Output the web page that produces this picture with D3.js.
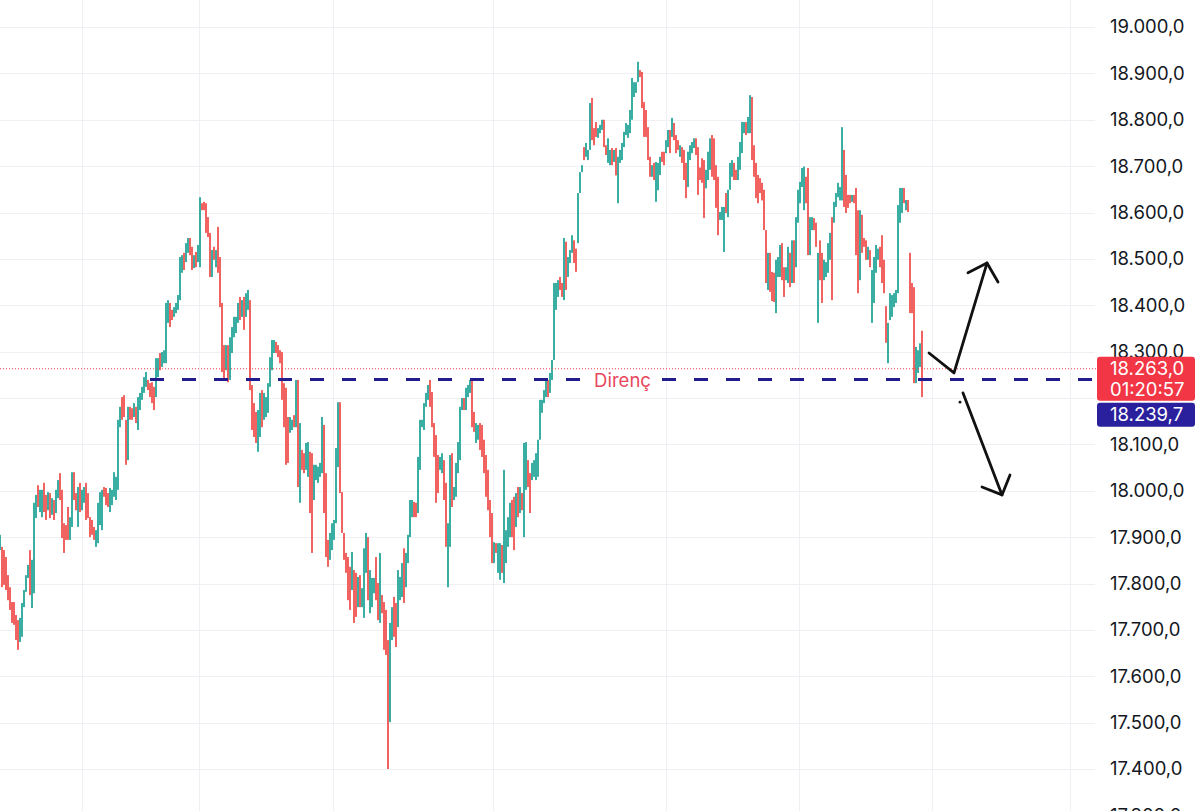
<!DOCTYPE html>
<html><head><meta charset="utf-8">
<script src="https://cdn.jsdelivr.net/npm/d3@7"></script>
<style>html,body{margin:0;padding:0;background:#fff;overflow:hidden}</style>
</head><body><svg id="c" width="1200" height="811"></svg>
<script>
const highs=[17905,17879,17872,17857,17818,17792,17760,17760,17732,17721,
17726,17758,17786,17818,17840,17872,17851,17974,17991,18012,
18002,18002,18017,17991,17997,17995,17984,17980,18002,18023,
18038,18002,17930,17926,17965,17943,18040,18040,17995,18008,
18017,18002,18008,18017,17995,17943,17937,17922,17915,17974,
17997,18002,18008,18006,17995,18006,18002,18040,18030,18153,
18181,18202,18206,18153,18181,18181,18178,18189,18181,18202,
18211,18224,18245,18256,18239,18232,18234,18224,18286,18286,
18297,18299,18303,18405,18411,18405,18390,18396,18405,18422,
18504,18508,18513,18534,18545,18545,18526,18508,18515,18530,
18633,18620,18623,18620,18590,18556,18519,18526,18519,18569,
18504,18405,18314,18314,18314,18331,18353,18375,18375,18405,
18418,18411,18418,18426,18433,18411,18228,18189,18170,18174,
18211,18217,18211,18202,18232,18288,18325,18325,18321,18314,
18303,18299,18232,18222,18159,18159,18153,18163,18239,18239,
18146,18088,18081,18103,18105,18084,18081,18056,18056,18052,
18060,18159,18142,18038,17894,17909,17930,17937,18092,18191,
18191,17997,17909,17866,17857,17836,17868,17829,17823,17814,
17818,17790,17876,17909,17900,17829,17812,17812,17857,17801,
17866,17775,17760,17743,17678,17715,17749,17771,17758,17829,
17814,17844,17876,17866,17905,17980,17980,17976,17974,18073,
18153,18153,18189,18211,18228,18239,18213,18146,18120,18077,
18073,18081,18066,18017,17930,18077,18081,18008,18060,18105,
18181,18200,18200,18222,18228,18239,18239,18170,18146,18142,
18146,18142,18110,18077,18045,17980,17952,17889,17887,17887,
17887,17883,18045,17915,17943,17974,17980,17987,17995,18008,
18008,17995,18103,18105,18066,18038,18060,18066,18081,18110,
18196,18196,18217,18239,18239,18254,18282,18448,18448,18454,
18461,18448,18545,18537,18504,18519,18551,18540,18522,18642,
18687,18702,18741,18750,18735,18836,18847,18782,18795,18782,
18789,18800,18800,18745,18760,18735,18739,18735,18739,18720,
18735,18750,18774,18793,18789,18821,18890,18881,18881,18925,
18907,18903,18838,18821,18784,18720,18702,18707,18709,18707,
18720,18731,18731,18756,18778,18778,18804,18793,18767,18756,
18745,18741,18735,18707,18731,18745,18752,18760,18760,18741,
18697,18717,18713,18692,18731,18760,18767,18760,18702,18677,
18601,18612,18612,18642,18649,18707,18713,18707,18692,18720,
18752,18795,18795,18795,18806,18853,18849,18745,18707,18681,
18674,18664,18649,18562,18513,18513,18472,18470,18498,18504,
18530,18534,18482,18482,18526,18513,18540,18540,18590,18649,
18666,18696,18699,18677,18696,18590,18590,18588,18578,18513,
18540,18513,18498,18493,18534,18556,18590,18623,18642,18664,
18655,18784,18735,18681,18638,18638,18638,18638,18653,18605,
18605,18595,18545,18540,18526,18519,18476,18504,18530,18522,
18526,18551,18498,18398,18362,18426,18422,18426,18433,18616,
18653,18653,18653,18627,18627,18513,18448,18439,18310,18303,
18318,18345];
const lows=[17872,17792,17797,17786,17764,17743,17715,17711,17678,17657,
17674,17685,17749,17782,17812,17775,17747,17779,17941,17965,
17954,17943,17954,17937,17958,17941,17948,17937,17952,17984,
17980,17898,17866,17894,17894,17894,17922,17980,17958,17922,
17954,17958,17974,17937,17941,17900,17905,17894,17879,17887,
17926,17915,17987,17969,17965,17954,17969,17987,17980,18002,
18137,18153,18159,18056,18066,18153,18153,18159,18146,18131,
18174,18196,18211,18224,18217,18202,18189,18174,18202,18245,
18260,18267,18275,18275,18362,18353,18368,18375,18383,18390,
18411,18470,18476,18493,18513,18508,18476,18480,18482,18493,
18482,18605,18605,18556,18547,18461,18461,18498,18482,18470,
18396,18256,18239,18260,18234,18239,18297,18331,18340,18362,
18368,18375,18347,18375,18390,18217,18131,18116,18103,18084,
18116,18137,18153,18159,18168,18224,18260,18297,18297,18288,
18275,18196,18137,18056,18060,18125,18131,18137,18137,18008,
17974,18045,18038,18045,18030,17952,17866,17980,18023,18017,
18030,18038,17952,17857,17836,17851,17872,17894,17930,18051,
17995,17909,17851,17823,17764,17743,17786,17715,17728,17749,
17749,17749,17726,17823,17764,17736,17749,17779,17764,17721,
17715,17736,17657,17646,17400,17501,17678,17685,17663,17706,
17764,17771,17758,17792,17844,17900,17943,17943,17943,17952,
18045,18137,18131,18181,18196,18181,18137,18073,17974,17995,
18045,18038,17980,17879,17792,17879,17965,17980,17987,18038,
18066,18174,18174,18174,18202,18211,18137,18127,18103,18110,
18088,18073,18038,17987,17958,17900,17844,17844,17866,17823,
17808,17823,17801,17844,17879,17900,17900,17872,17922,17943,
17952,17958,17900,18002,18008,17952,18023,18030,18023,18030,
18110,18168,18189,18202,18202,18211,18239,18282,18390,18418,
18433,18418,18411,18433,18461,18491,18513,18491,18472,18534,
18642,18687,18713,18720,18713,18735,18756,18745,18763,18761,
18771,18778,18741,18724,18707,18702,18702,18709,18680,18620,
18707,18713,18741,18767,18761,18771,18800,18849,18858,18881,
18892,18825,18763,18763,18713,18677,18677,18670,18623,18648,
18681,18709,18702,18728,18741,18728,18763,18756,18728,18735,
18720,18707,18670,18631,18655,18713,18728,18739,18724,18638,
18670,18664,18588,18652,18670,18692,18677,18670,18610,18551,
18584,18584,18515,18599,18590,18649,18677,18670,18670,18670,
18692,18728,18771,18767,18771,18771,18713,18677,18631,18620,
18642,18626,18562,18448,18433,18429,18409,18407,18383,18461,
18461,18454,18418,18454,18448,18439,18448,18448,18482,18578,
18620,18655,18605,18620,18508,18508,18562,18562,18526,18362,
18454,18405,18454,18461,18470,18498,18411,18578,18612,18633,
18626,18626,18612,18599,18610,18620,18623,18620,18508,18426,
18454,18513,18526,18498,18498,18482,18362,18405,18470,18498,
18482,18448,18426,18319,18275,18368,18375,18396,18405,18426,
18578,18599,18620,18605,18601,18383,18383,18232,18232,18254,
18267,18202];
const opens=[17880,17862,17857,17843,17807,17782,17751,17750,17721,17708,
17687,17703,17758,17791,17819,17853,17773,17828,17954,18003,
17966,17958,18004,17980,17968,17984,17957,17971,17965,17994,
18026,17981,17917,17920,17951,17906,17952,18028,17988,17944,
18004,17969,17982,18001,17984,17934,17931,17916,17888,17909,
17944,17937,18004,17999,17989,17967,17977,18000,17992,18040,
18148,18192,18197,18134,18095,18175,18173,18167,18174,18149,
18183,18203,18220,18232,18235,18226,18225,18214,18223,18255,
18290,18275,18282,18308,18374,18395,18386,18380,18389,18398,
18434,18480,18506,18503,18521,18538,18516,18487,18508,18502,
18520,18617,18619,18607,18581,18537,18476,18520,18491,18549,
18482,18375,18299,18274,18298,18262,18311,18342,18349,18373,
18408,18384,18404,18388,18401,18372,18209,18174,18157,18107,
18140,18201,18168,18170,18184,18240,18276,18304,18316,18309,
18297,18278,18213,18189,18139,18134,18137,18158,18163,18193,
18017,18079,18072,18060,18049,18058,18038,17999,18031,18026,
18038,18068,18104,18002,17882,17865,17887,17905,17970,18086,
18152,17979,17897,17857,17838,17817,17807,17806,17804,17765,
17804,17759,17764,17845,17873,17759,17765,17787,17838,17785,
17753,17767,17739,17724,17622,17554,17696,17754,17739,17737,
17777,17789,17852,17810,17859,17920,17952,17969,17968,17982,
18072,18141,18146,18188,18204,18227,18198,18131,18091,18061,
18052,18049,18049,17990,17826,17929,18058,17987,18005,18055,
18095,18181,18195,18186,18209,18218,18219,18161,18114,18118,
18134,18128,18096,18059,18028,17964,17930,17855,17883,17839,
17828,17871,17862,17862,17895,17919,17964,17964,17940,17995,
17966,17988,17951,18028,18054,18021,18032,18039,18037,18050,
18131,18175,18196,18211,18232,18222,18250,18324,18404,18427,
18455,18442,18445,18516,18472,18498,18523,18530,18512,18561,
18653,18691,18735,18727,18718,18760,18829,18775,18789,18766,
18776,18784,18788,18741,18720,18710,18732,18715,18727,18645,
18714,18722,18749,18774,18768,18784,18822,18857,18864,18892,
18904,18887,18823,18809,18770,18711,18683,18700,18645,18663,
18691,18727,18725,18735,18750,18768,18773,18786,18759,18752,
18726,18734,18722,18692,18674,18721,18734,18744,18753,18720,
18692,18706,18688,18660,18682,18705,18749,18742,18684,18652,
18588,18590,18539,18633,18605,18663,18686,18700,18688,18683,
18707,18745,18777,18789,18780,18792,18822,18731,18692,18669,
18668,18656,18632,18539,18453,18496,18459,18457,18412,18472,
18478,18518,18469,18461,18468,18498,18471,18522,18509,18596,
18632,18665,18629,18666,18658,18528,18569,18583,18568,18400,
18523,18491,18465,18469,18486,18513,18554,18589,18620,18641,
18633,18666,18710,18665,18632,18634,18627,18634,18624,18569,
18492,18579,18541,18532,18505,18512,18391,18430,18485,18504,
18517,18530,18484,18382,18297,18382,18387,18404,18412,18474,
18597,18613,18646,18611,18622,18487,18435,18398,18252,18266,
18280,18316];
const closes=[17898,17814,17816,17804,17778,17755,17726,17723,17692,17673,
17716,17743,17779,17811,17834,17799,17830,17935,17981,17977,
17992,17990,17970,17951,17989,17955,17977,17948,17992,18015,
17995,17924,17882,17902,17912,17933,18016,17995,17967,17991,
17970,17993,18001,17957,17955,17911,17913,17901,17908,17957,
17983,17985,17992,17978,17972,17996,17995,18029,18020,18123,
18172,18165,18171,18080,18158,18160,18159,18183,18155,18188,
18204,18218,18238,18250,18223,18210,18200,18186,18269,18278,
18269,18293,18297,18379,18401,18366,18374,18392,18401,18416,
18485,18500,18485,18526,18539,18517,18489,18503,18490,18523,
18603,18609,18610,18572,18558,18485,18507,18505,18512,18495,
18423,18293,18258,18303,18254,18313,18342,18366,18368,18396,
18381,18404,18365,18416,18424,18266,18155,18134,18120,18156,
18192,18157,18199,18193,18219,18275,18312,18319,18303,18295,
18282,18222,18161,18098,18085,18152,18149,18144,18219,18066,
18112,18056,18049,18091,18090,17985,17920,18041,18049,18045,
18054,18135,18000,17902,17850,17897,17918,17928,18060,18163,
18044,17931,17866,17834,17788,17766,17852,17744,17752,17801,
17766,17782,17846,17892,17798,17810,17799,17805,17787,17741,
17836,17746,17683,17670,17470,17672,17735,17706,17687,17804,
17804,17829,17788,17851,17893,17964,17973,17951,17951,18049,
18131,18150,18177,18205,18222,18196,18156,18091,18010,18016,
18067,18072,18001,17913,17902,18037,17994,18002,18045,18092,
18158,18195,18181,18212,18223,18233,18163,18138,18137,18136,
18103,18090,18056,18010,17980,17920,17871,17880,17871,17874,
17871,17838,17996,17901,17930,17959,17920,17901,17980,17959,
17997,17967,18062,18084,18022,17973,18053,18059,18069,18094,
18179,18190,18211,18232,18211,18245,18273,18415,18436,18447,
18440,18426,18519,18459,18495,18513,18543,18503,18485,18620,
18678,18699,18720,18744,18731,18816,18779,18754,18771,18778,
18785,18796,18756,18729,18749,18728,18711,18730,18695,18700,
18729,18743,18767,18788,18783,18811,18872,18875,18876,18916,
18896,18845,18782,18778,18731,18688,18697,18679,18701,18695,
18712,18715,18709,18750,18771,18741,18796,18765,18738,18740,
18740,18716,18686,18650,18716,18739,18747,18756,18733,18664,
18677,18677,18619,18684,18719,18746,18700,18692,18633,18583,
18598,18606,18593,18610,18637,18695,18706,18679,18676,18710,
18740,18782,18790,18774,18799,18837,18747,18694,18650,18635,
18650,18636,18584,18477,18497,18450,18425,18423,18475,18495,
18516,18474,18434,18476,18510,18458,18522,18471,18568,18635,
18657,18688,18680,18634,18555,18574,18584,18568,18539,18483,
18476,18432,18489,18487,18521,18544,18456,18614,18636,18658,
18649,18752,18643,18620,18617,18625,18635,18625,18544,18471,
18575,18534,18531,18508,18520,18491,18453,18484,18518,18517,
18493,18474,18444,18339,18345,18414,18413,18420,18427,18578,
18638,18642,18628,18623,18608,18416,18399,18284,18294,18293,
18308,18263];

// 18.200,0 is hidden behind the price boxes in the reference
const priceTicks=[17300,17400,17500,17600,17700,17800,17900,18000,18100,18300,18400,18500,18600,18700,18800,18900,19000];
const gridPrices=[17300,17400,17500,17600,17700,17800,17900,18000,18100,18200,18300,18400,18500,18600,18700,18800,18900,19000];
const timeGridIdx=[41,99.5,166.5,246.5,333,399.5,466,535];
const lastPrice=18263.0, countdown="01:20:57";
const levelPrice=18239.7, levelLabel="Direnç", levelStartIdx=75;
// hand-drawn arrows, in [bar index, price]
const upArrow=[[464.5,18297],[477,18254],[493.5,18491]];
const upHead=[[484,18470],[493.5,18491],[499,18450]];
const downArrow=[[481.5,18211],[501,17991]];
const downHead=[[491,18008],[501,17991],[505,18034]];
const dotPt=[480,18191];

const upColor="#26a69a", downColor="#ef5350";
const plotRight=1095, axisX=1097;
const FONT="Inter, 'Noto Sans', sans-serif";
const svg=d3.select("#c");
const x=d3.scaleLinear().domain([0,highs.length-1]).range([0,922]);
const y=d3.scaleLinear().domain([17400,19000]).range([769,27]);
const fmt=d3.formatLocale({decimal:",",thousands:".",grouping:[3],currency:["",""]}).format(",.1f");

// grid
const g=svg.append("g");
g.selectAll("line.h").data(gridPrices).join("line")
 .attr("x1",0).attr("x2",plotRight).attr("y1",d=>Math.round(y(d))+0.5).attr("y2",d=>Math.round(y(d))+0.5)
 .attr("stroke","#eef0f3").attr("stroke-width",1);
g.selectAll("line.v").data(timeGridIdx).join("line")
 .attr("x1",d=>Math.round(x(d))+0.5).attr("x2",d=>Math.round(x(d))+0.5).attr("y1",0).attr("y2",811)
 .attr("stroke","#eef0f3").attr("stroke-width",1);

// bars
const idx=d3.range(highs.length);
svg.append("g").selectAll("rect").data(idx).join("rect")
 .attr("x",i=>x(i)-0.9).attr("width",1.8)
 .attr("y",i=>y(highs[i])).attr("height",i=>Math.max(1,y(lows[i])-y(highs[i])))
 .attr("fill",i=>closes[i]>=opens[i]?upColor:downColor);

// last price dotted line
svg.append("line").attr("x1",0).attr("x2",axisX).attr("y1",y(lastPrice)).attr("y2",y(lastPrice))
 .attr("stroke","#f23645").attr("stroke-width",1).attr("stroke-dasharray","1,2");

// resistance level
const lx1=x(levelStartIdx), lx2=plotRight;
svg.append("line").attr("x1",lx1).attr("x2",lx2).attr("y1",y(levelPrice)).attr("y2",y(levelPrice))
 .attr("stroke","#221c8e").attr("stroke-width",3).attr("stroke-dasharray","14,18");
const lmid=(lx1+lx2)/2;
svg.append("rect").attr("x",lmid-35).attr("y",y(levelPrice)-4).attr("width",70).attr("height",8).attr("fill","#fff");
svg.append("text").attr("x",lmid).attr("y",y(levelPrice)).attr("dy","0.38em").attr("text-anchor","middle")
 .attr("font-family",FONT).attr("font-size",18.5).attr("fill","#e8475c").text(levelLabel);

// arrows
const line=d3.line().x(d=>x(d[0])).y(d=>y(d[1]));
[upArrow,upHead,downArrow,downHead].forEach(p=>{
 svg.append("path").attr("d",line(p)).attr("fill","none").attr("stroke","#111").attr("stroke-width",2.8)
  .attr("stroke-linecap","round").attr("stroke-linejoin","round");
});
svg.append("circle").attr("cx",x(dotPt[0])).attr("cy",y(dotPt[1])).attr("r",1.4).attr("fill","#111");

// right axis
const ax=svg.append("g").attr("transform",`translate(${1110},0)`)
 .call(d3.axisRight(y).tickValues(priceTicks).tickFormat(fmt).tickSize(0).tickPadding(0));
ax.select(".domain").remove();
ax.selectAll("text").attr("font-family",FONT).attr("font-size",18.5).attr("fill","#131722");

// price boxes
const ly=y(lastPrice);
svg.append("rect").attr("x",axisX).attr("y",ly-12).attr("width",98).attr("height",44).attr("rx",3).attr("fill","#f23645");
svg.append("text").attr("x",1110).attr("y",ly).attr("dy","0.36em").attr("font-family",FONT)
 .attr("font-size",18.5).attr("fill","#fff").text(fmt(lastPrice));
svg.append("text").attr("x",1110).attr("y",ly+21).attr("dy","0.36em").attr("font-family",FONT)
 .attr("font-size",18.5).attr("fill","#fff").text(countdown);
svg.append("rect").attr("x",axisX).attr("y",ly+34).attr("width",98).attr("height",24).attr("rx",3).attr("fill","#2a1f9c");
svg.append("text").attr("x",1110).attr("y",ly+46).attr("dy","0.36em").attr("font-family",FONT)
 .attr("font-size",18.5).attr("fill","#fff").text(fmt(levelPrice));
</script></body></html>
